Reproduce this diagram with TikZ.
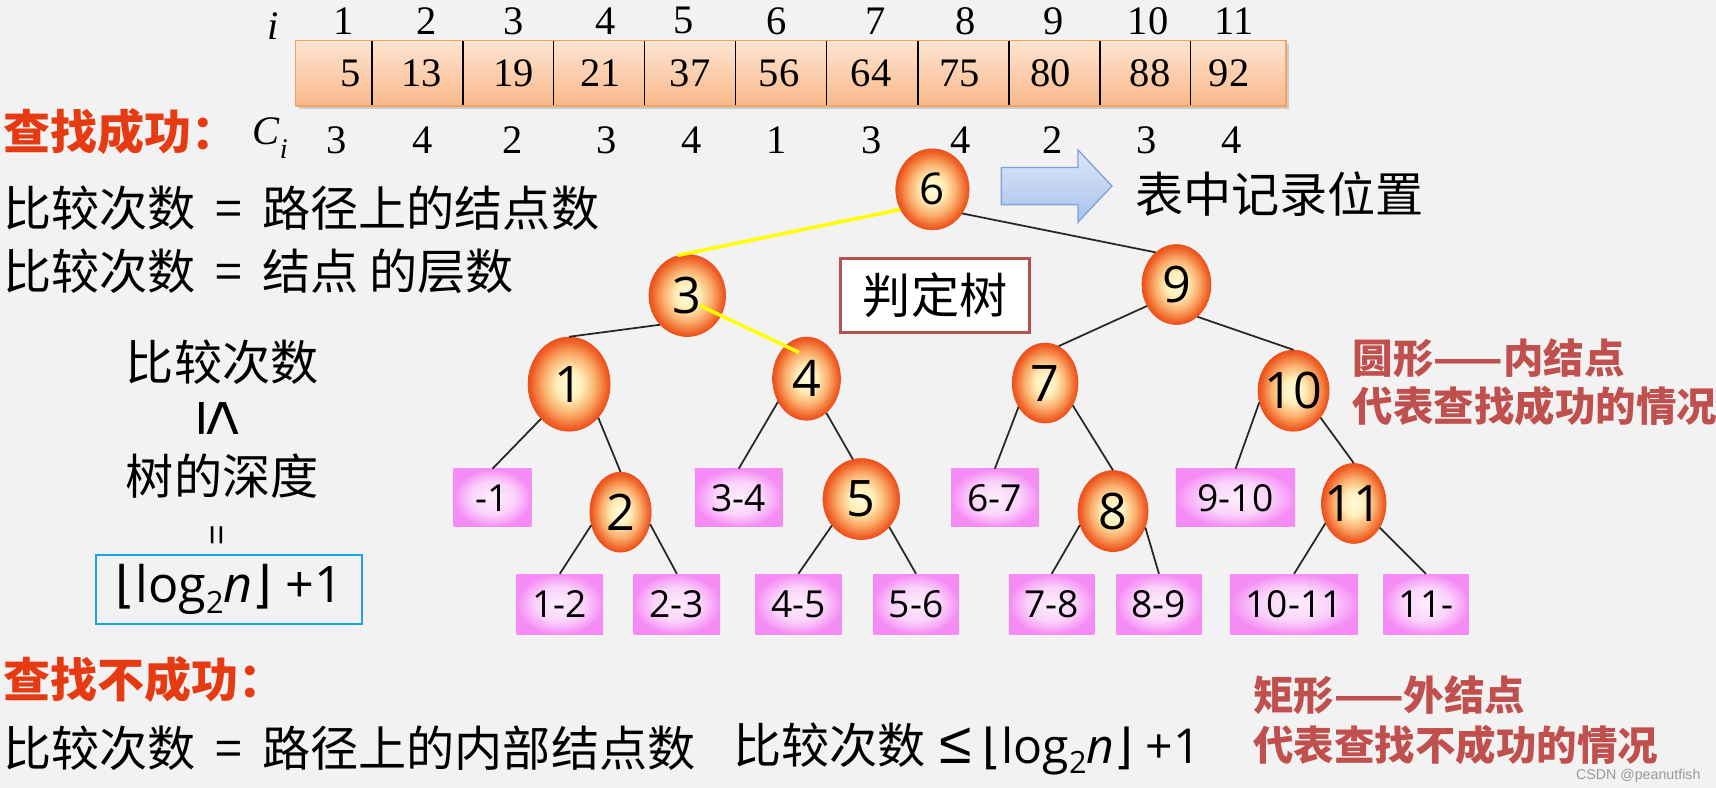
\documentclass[tikz,border=0pt]{standalone}
\usepackage{fontspec}
\setmainfont{Noto Sans CJK SC}
\newfontfamily\tnr{Liberation Serif}
\newfontfamily\osans{Open Sans}
\newfontfamily\dejavu{DejaVu Sans}
\newfontfamily\lsans{Liberation Sans}
\usetikzlibrary{shapes.geometric,calc}

\definecolor{bg}{HTML}{F2F2F2}
\definecolor{headred}{HTML}{E63A12}
\definecolor{notered}{HTML}{C0504D}
\definecolor{boxred}{HTML}{B5524F}
\definecolor{edgeyellow}{HTML}{FFFF00}
\definecolor{logblue}{HTML}{1CA3E3}
\definecolor{tblborder}{HTML}{F4A460}
\definecolor{tbltop}{HTML}{FDE5D2}
\definecolor{tblbot}{HTML}{F9B889}
\definecolor{arrtop}{HTML}{DDE7F8}
\definecolor{arrbot}{HTML}{A8C2EC}
\definecolor{arrdraw}{HTML}{7FA2DA}
\definecolor{ballrim}{HTML}{E8501E}
\definecolor{wmark}{HTML}{9A9A9A}

\pgfdeclareradialshading{ballshade}{\pgfpointorigin}{rgb(0bp)=(1,0.99,0.86); rgb(8bp)=(1,0.93,0.72); rgb(16bp)=(0.98,0.68,0.42); rgb(23bp)=(0.94,0.38,0.15); rgb(25bp)=(0.92,0.32,0.11); rgb(50bp)=(0.92,0.32,0.11)}
\pgfdeclareradialshading{boxshade}{\pgfpointorigin}{rgb(0bp)=(0.99,0.93,0.99); rgb(14bp)=(0.98,0.83,0.98); rgb(22bp)=(0.97,0.63,0.97); rgb(25bp)=(0.96,0.55,0.96); rgb(50bp)=(0.96,0.55,0.96)}

\newcommand\logexpr[2]{{\dejavu ⌊}log\raisebox{-0.22em}{\fontsize{#2}{#2}\selectfont 2}\textit{n}{\dejavu ⌋} +1}
\newcommand\eqsp{\hspace{18pt}=\hspace{18pt}}

\begin{document}
\begin{tikzpicture}[x=1pt,y=-1pt,
  cjk/.style={inner sep=0pt, font=\fontsize{44}{44}\selectfont},
  head/.style={inner sep=0pt, text=headred, font=\bfseries\fontsize{43}{43}\selectfont},
  note/.style={inner sep=0pt, text=notered, font=\bfseries\fontsize{37}{37}\selectfont},
  tnum/.style={inner sep=0pt, font=\tnr\fontsize{37}{37}\selectfont},
  inner/.style={ellipse, shading=ballshade, draw=ballrim, line width=0.6pt, inner sep=-12pt, font=\osans\fontsize{46}{46}\selectfont},
  outer/.style={rectangle, shading=boxshade, inner sep=0pt, minimum height=55pt, font=\osans\fontsize{34}{34}\selectfont},
  edge/.style={line width=1.6pt, black!85},
  yedge/.style={line width=3.2pt, edgeyellow},
]
\fill[bg] (0,0) rectangle (1568,720);
\useasboundingbox (0,0) rectangle (1568,720);

% ---- table ----
\fill[black!20] (273,40) rectangle (1178,100);
\shade[top color=tbltop, bottom color=tblbot] (270,37) rectangle (1175,97);
\foreach \x in {340,423,506,589,672,755,839,922,1005,1088}
  \draw[line width=1.3pt] (\x,37) -- (\x,97);
\draw[tblborder, line width=1.5pt] (270,37) rectangle (1175,97);

\node[tnum] (ilab) at (250,24) {\itshape i};
\node[tnum] (clab) at (247,126) {\itshape C\raisebox{-0.35em}{\fontsize{26}{26}\selectfont i}};
\foreach \x [count=\k] in {314,390,469,553,625,710,800,882,963,1049,1128}
  \node[tnum] (i\k) at (\x,19) {\k};
\foreach \x/\v [count=\k] in {320/5,385.5/13,469/19,548.5/21,630.5/37,712/56,796/64,877/75,960/80,1051/88,1123/92}
  \node[tnum] (v\k) at (\x,67) {\v};
\foreach \x/\v [count=\k] in {308/3,386/4,468/2,554/3,632/4,710/1,796/3,878/4,962/2,1048/3,1125/4}
  \node[tnum] (c\k) at (\x,128) {\v};

% ---- left texts ----
\node[head, anchor=west] (succ) at (3,120) {查找成功：};
\node[cjk, anchor=west] (l1) at (3,190) {比较次数\eqsp 路径上的结点数};
\node[cjk, anchor=west] (l2) at (3,248) {比较次数\eqsp 结点 的层数};
\node[cjk] (cmp) at (203,331) {比较次数};
\node[inner sep=0pt, rotate=-90, font=\lsans\fontsize{60}{60}\selectfont] (le) at (200,382) {≤};
\node[cjk] (depth) at (203,435) {树的深度};
\node[inner sep=0pt, rotate=90, font=\lsans\fontsize{32}{32}\selectfont] (eq) at (201,489) {=};
\node[draw=logblue, line width=2pt, minimum width=243pt, minimum height=63pt, inner sep=0pt,
      font=\osans\fontsize{46}{46}\selectfont] (logbox) at (209.5,538.5) {\logexpr{46}{28}};

\node[head, anchor=west] (fail) at (3,621) {查找不成功：};
\node[cjk, anchor=west] (b1) at (3,684) {比较次数\eqsp 路径上的内部结点数};
\node[cjk, anchor=west] (b2) at (670,684) {比较次数\hspace{12pt}{\lsans\fontsize{54}{54}\selectfont ≤}\hspace{10pt}{\osans\logexpr{46}{28}}};

% ---- right texts ----
\path[draw=arrdraw, line width=1.2pt, top color=arrtop, bottom color=arrbot]
  (915,153) -- (985,153) -- (985,137) -- (1016,170) -- (985,203) -- (985,187) -- (915,187) -- cycle;
\node[cjk, anchor=west] (pos) at (1037,177) {表中记录位置};
\node[cjk, draw=boxred, line width=2.5pt, fill=white, minimum width=173pt, minimum height=68pt] (jt) at (854.5,270) {判定树};
\node[note, anchor=west] (nr1) at (1236,327) {圆形——内结点};
\node[note, anchor=west] (nr2) at (1236,371) {代表查找成功的情况};
\node[note, anchor=west] (nr3) at (1145,635) {矩形——外结点};
\node[note, anchor=west] (nr4) at (1145,681) {代表查找不成功的情况};
\node[inner sep=0pt, text=wmark, font=\lsans\fontsize{13}{13}\selectfont] (wm) at (1497,709) {CSDN @peanutfish};

% ---- tree: internal nodes ----
\node[inner, minimum width=67pt, minimum height=74pt, font=\osans\fontsize{40}{40}\selectfont] (n6) at (852,173) {6};
\node[inner, minimum width=70pt, minimum height=75pt] (n3) at (628,270) {3};
\node[inner, minimum width=75pt, minimum height=86pt] (n1) at (520,351) {1};
\node[inner, minimum width=62pt, minimum height=76pt] (n4) at (737,346) {4};
\node[inner, minimum width=56pt, minimum height=73pt] (n2) at (567,468) {2};
\node[inner, minimum width=70pt, minimum height=74pt] (n5) at (787,456) {5};
\node[inner, minimum width=63pt, minimum height=73pt] (n9) at (1075,260) {9};
\node[inner, minimum width=60pt, minimum height=73pt] (n7) at (955,350) {7};
\node[inner, minimum width=65pt, minimum height=74pt] (n10) at (1182,357) {10};
\node[inner, minimum width=64pt, minimum height=74pt] (n8) at (1017,467) {8};
\node[inner, minimum width=59pt, minimum height=73pt] (n11) at (1237,460) {11};

% ---- tree: external nodes ----
\node[outer, minimum width=71pt, minimum height=53pt] (r1) at (450,455) {-1};
\node[outer, minimum width=80pt, minimum height=53pt] (r34) at (675,455) {3-4};
\node[outer, minimum width=80pt, minimum height=53pt] (r67) at (909,455) {6-7};
\node[outer, minimum width=109pt, minimum height=53pt] (r910) at (1129,455) {9-10};
\node[outer, minimum width=79pt] (r12) at (511.5,552) {1-2};
\node[outer, minimum width=79pt] (r23) at (618.5,552) {2-3};
\node[outer, minimum width=79pt] (r45) at (729.5,552) {4-5};
\node[outer, minimum width=78pt] (r56) at (837,552) {5-6};
\node[outer, minimum width=78pt] (r78) at (961,552) {7-8};
\node[outer, minimum width=78pt] (r89) at (1059,552) {8-9};
\node[outer, minimum width=117pt] (r1011) at (1182.5,552) {10-11};
\node[outer, minimum width=78pt] (r11) at (1303,552) {11-};

% ---- edges ----
\draw[edge] (n6.-39) -- (n9.123);
\draw[edge] (n3.-133) -- (n1.north);
\draw[edge] (n1.-129) -- (r1.north);
\draw[edge] (n1.-49) -- (n2.north);
\draw[edge] (n2.-156) -- (r12.north);
\draw[edge] (n2.-22) -- (r23.north);
\draw[edge] (n4.-141) -- (r34.north);
\draw[edge] (n4.-60) -- (n5.102);
\draw[edge] (n5.-138) -- (r45.north);
\draw[edge] (n5.-45) -- (r56.north);
\draw[edge] (n9.-144) -- (n7.70);
\draw[edge] (n9.-57) -- (n10.north);
\draw[edge] (n7.-138) -- (r67.north);
\draw[edge] (n7.-39) -- (n8.north);
\draw[edge] (n8.-157) -- (r78.north);
\draw[edge] (n8.-27) -- (r89.north);
\draw[edge] (n10.-161) -- (r910.north);
\draw[edge] (n10.-45) -- (n11.north);
\draw[edge] (n11.-145) -- (r1011.north);
\draw[edge] (n11.-43) -- (r11.north);
\draw[yedge] (n6.-148) -- (n3.104);
\draw[yedge] ($(n3.center)+(11,9)$) -- ($(n4.center)+(-7,-24)$);
\end{tikzpicture}
\end{document}
